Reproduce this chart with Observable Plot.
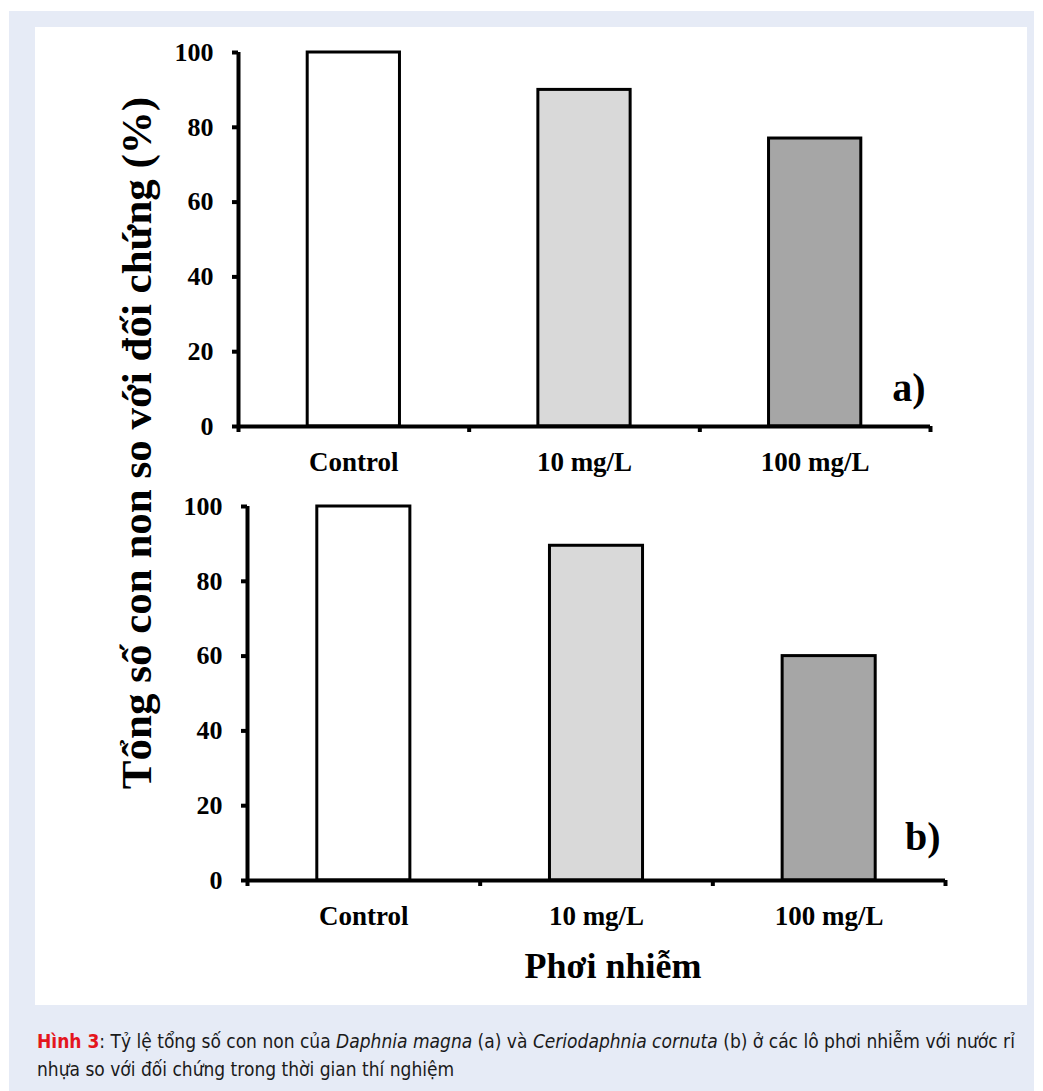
<!DOCTYPE html>
<html>
<head>
<meta charset="utf-8">
<script src="https://cdn.jsdelivr.net/npm/d3@7"></script>
<script src="https://cdn.jsdelivr.net/npm/@observablehq/plot@0.6"></script>
<style>
  html, body { margin: 0; padding: 0; background: #ffffff; }
  body { width: 1043px; height: 1091px; position: relative; overflow: hidden; }
  #frame { position: absolute; left: 9px; top: 11px; width: 1025px; height: 1080px; background: #e6ebf6; }
  #panel { position: absolute; left: 35px; top: 27px; width: 992px; height: 978px; background: #ffffff; }
  .chart { position: absolute; }
  #ytitle { position: absolute; left: 136px; top: 443px; transform: translate(-50%, -50%) rotate(-90deg);
    white-space: nowrap; font-family: "Liberation Serif", "Times New Roman", serif; font-weight: bold; font-size: 43px; color: #000; }
  #xtitle { position: absolute; left: 613px; top: 977px; transform: translate(-50%, -80%);
    white-space: nowrap; font-family: "Liberation Serif", "Times New Roman", serif; font-weight: bold; font-size: 36px; color: #000; line-height: 1; }
  #caption { position: absolute; left: 37px; top: 1027px; width: 1000px; font-family: "Liberation Sans Narrow", "DejaVu Sans Condensed", "Roboto", sans-serif;
    font-stretch: condensed; font-size: 19px; line-height: 28px; color: #1a1a1a; white-space: nowrap; }
  #caption b { color: #e4161d; }
</style>
</head>
<body>
<div id="frame"></div>
<div id="panel"></div>
<div id="chartA" class="chart" style="left:160px; top:30px;"></div>
<div id="chartB" class="chart" style="left:169px; top:484px;"></div>
<div id="ytitle">Tổng số con non so với đối chứng (%)</div>
<div id="xtitle">Phơi nhiễm</div>
<div id="caption"><b>Hình 3</b>: Tỷ lệ tổng số con non của <i>Daphnia magna</i> (a) và <i>Ceriodaphnia cornuta</i> (b) ở các lô phơi nhiễm với nước rỉ<br>nhựa so với đối chứng trong thời gian thí nghiệm</div>
<script>
const categories = ["Control", "10 mg/L", "100 mg/L"];
const valuesA = [100, 90, 77];
const valuesB = [100, 89.5, 60];
const fills = ["#ffffff", "#d9d9d9", "#a6a6a6"];
const yTicks = [0, 20, 40, 60, 80, 100];
const panelLabels = ["a)", "b)"];

function makeChart(values, label, labelDy, width) {
  const rows = categories.map((c, i) => ({cat: c, i, value: values[i], fill: fills[i]}));
  const xTicks = d3.range(categories.length + 1);
  return Plot.plot({
    width: width,
    height: 460,
    marginLeft: 78,
    marginRight: 30,
    marginTop: 22,
    marginBottom: 64,
    style: {fontFamily: "'Liberation Serif', 'Times New Roman', serif", fontWeight: "bold", color: "#000", background: "transparent", overflow: "visible"},
    x: {type: "linear", domain: [0, categories.length]},
    y: {domain: [0, 100]},
    marks: [
      Plot.rectY(rows, {x1: d => d.i + 0.3, x2: d => d.i + 0.7, y: "value", fill: "fill", stroke: "#000", strokeWidth: 3}),
      Plot.axisY({ticks: yTicks, tickSize: 6, tickPadding: 19, fontSize: 26, strokeWidth: 4, label: null}),
      Plot.axisX({ticks: xTicks, tickSize: 6, tickFormat: () => "", strokeWidth: 4, label: null}),
      Plot.ruleX([0], {strokeWidth: 4, stroke: "#000"}),
      Plot.ruleY([0], {strokeWidth: 4, stroke: "#000"}),
      Plot.text(rows, {x: d => d.i + 0.5, y: 0, text: "cat", dy: 44, lineAnchor: "bottom", fontSize: 27, fill: "#000"}),
      Plot.text([label], {frameAnchor: "bottom-right", text: d => d, textAnchor: "end", lineAnchor: "bottom", dx: -5, dy: labelDy, fontSize: 40, fill: "#000"})
    ]
  });
}

document.getElementById("chartA").appendChild(makeChart(valuesA, panelLabels[0], -26, 800));
document.getElementById("chartB").appendChild(makeChart(valuesB, panelLabels[1], -31, 806));
</script>
</body>
</html>
